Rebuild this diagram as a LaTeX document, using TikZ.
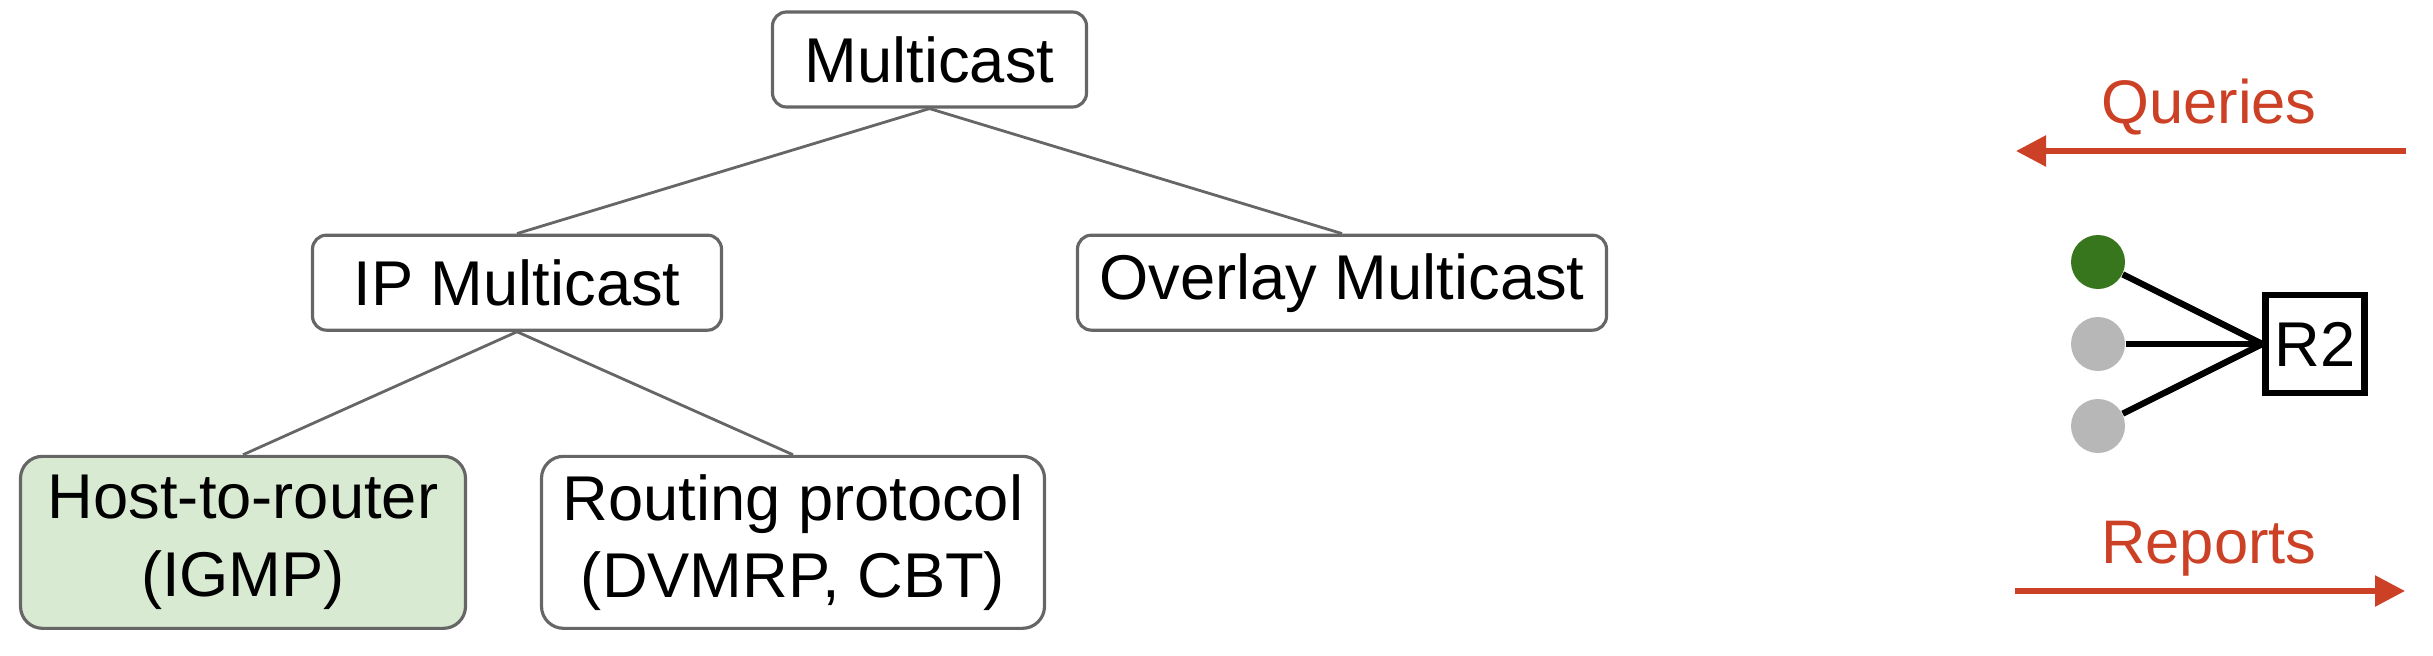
\documentclass[tikz,border=0pt]{standalone}
\usepackage{fontspec}
\setmainfont{Liberation Sans}
\usepackage{tikz}
\usetikzlibrary{arrows.meta,positioning}
\definecolor{boxgray}{HTML}{666666}
\definecolor{hostgreen}{HTML}{D9EAD3}
\definecolor{dotgreen}{HTML}{38761D}
\definecolor{dotgray}{HTML}{B7B7B7}
\definecolor{sigred}{HTML}{CC4125}
\begin{document}
\begin{tikzpicture}[node distance=12.5mm, box/.style={draw=boxgray,line width=0.9pt,rounded corners=1.4mm,align=center,minimum height=9.5mm,inner sep=0pt,font=\fontsize{18}{22}\selectfont}, tall/.style={box,minimum height=17.2mm,rounded corners=2.2mm}, link/.style={draw=boxgray,line width=0.8pt}, dot/.style={circle,minimum size=5.4mm,inner sep=0pt}, sig/.style={draw=sigred,line width=1.6pt,-{Triangle[length=3mm,width=3mm]}}, sigtext/.style={text=sigred,anchor=base,font=\fontsize{17.5}{20}\selectfont}, >=Stealth]
\useasboundingbox (0,0) rectangle (24.33,-6.55);
\node[box, minimum width=31.4mm] (mc) at (9.295,-0.595) {Multicast};
\node[box, minimum width=40.9mm, below=of mc, xshift=-41.25mm] (ip) {IP Multicast};
\draw[link] (mc.south) -- (ip.north);
\node[box, minimum width=52.9mm, below=of mc, xshift=41.25mm] (ov) {Overlay Multicast};
\draw[link] (mc.south) -- (ov.north);
\node[tall, fill=hostgreen, minimum width=44.5mm, below=12.3mm of ip, xshift=-27.4mm] (host) {Host-to-router\\(IGMP)};
\draw[link] (ip.south) -- (host.north);
\node[tall, minimum width=50.3mm, below=12.3mm of ip, xshift=27.6mm] (rout) {Routing protocol\\(DVMRP, CBT)};
\draw[link] (ip.south) -- (rout.north);
\node[sigtext] (qry) at (22.09,-1.23) {Queries};
\coordinate (qryR) at (24.06,-1.51);
\coordinate (qryL) at (20.16,-1.51);
\draw[sig] (qryR) -- (qryL);
\node[draw, line width=1.8pt, minimum width=9.9mm, minimum height=9.8mm, inner sep=0pt, font=\fontsize{18}{20}\selectfont] (r2) at (23.15,-3.44) {R2};
\node[dot, fill=dotgreen] (h1) at (20.98,-2.62) {};
\node[dot, fill=dotgray] (h2) at (20.98,-3.44) {};
\node[dot, fill=dotgray] (h3) at (20.98,-4.26) {};
\draw[line width=1.8pt] (h1) -- (r2.west);
\draw[line width=1.8pt] (h2) -- (r2.west);
\draw[line width=1.8pt] (h3) -- (r2.west);
\node[sigtext] (rep) at (22.09,-5.63) {Reports};
\coordinate (repL) at (20.15,-5.91);
\coordinate (repR) at (24.05,-5.91);
\draw[sig] (repL) -- (repR);
\end{tikzpicture}
\end{document}
